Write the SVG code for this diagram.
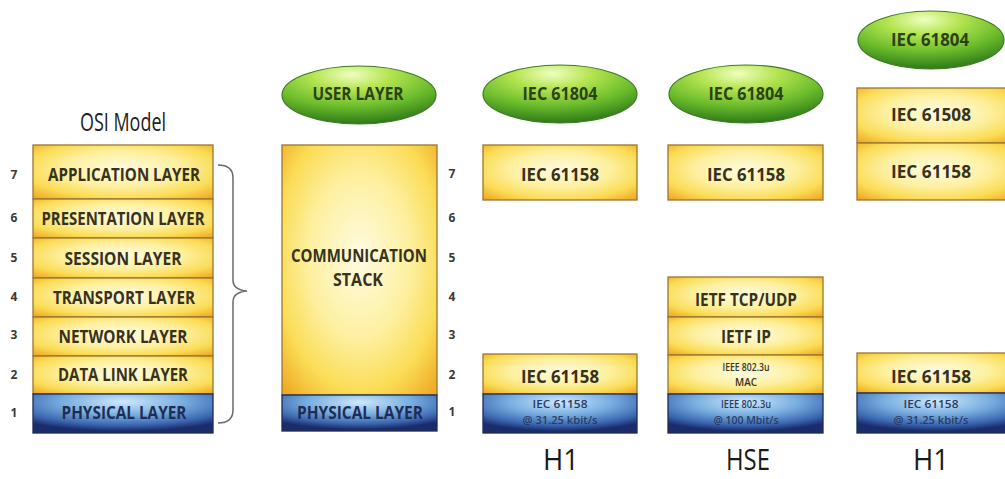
<svg xmlns="http://www.w3.org/2000/svg" width="1005" height="479" viewBox="0 0 1005 479">
  <defs>
    <radialGradient id="gYellow" cx="0.5" cy="0.45" r="0.72">
      <stop offset="0" stop-color="#fffbe2"/>
      <stop offset="0.45" stop-color="#fdf0a0"/>
      <stop offset="0.75" stop-color="#fbdc55"/>
      <stop offset="1" stop-color="#efa924"/>
    </radialGradient>
    <radialGradient id="gBlue" cx="0.5" cy="0.2" r="0.75">
      <stop offset="0" stop-color="#cfe8fb"/>
      <stop offset="0.45" stop-color="#78aee0"/>
      <stop offset="0.8" stop-color="#3a66b0"/>
      <stop offset="1" stop-color="#1b2c6c"/>
    </radialGradient>
    <radialGradient id="gGreen" cx="0.45" cy="0.15" r="0.85">
      <stop offset="0" stop-color="#efffc0"/>
      <stop offset="0.3" stop-color="#b4e450"/>
      <stop offset="0.65" stop-color="#6cbc2c"/>
      <stop offset="1" stop-color="#2e7a18"/>
    </radialGradient>
    <clipPath id="page"><rect x="0" y="0" width="1005" height="479"/></clipPath>
  </defs>
  <style>
    .y { fill: url(#gYellow); stroke: #9a7632; stroke-width: 1.3; }
    .b { fill: url(#gBlue); stroke: #1e2a55; stroke-width: 1.3; }
    .g { fill: url(#gGreen); stroke: #3d7a22; stroke-width: 1.2; }
    text { font-family: "Open Sans", "DejaVu Sans", sans-serif; text-anchor: middle; }
    .t { font-size: 17px; font-weight: 700; fill: #38321c; }
    .tb { font-size: 17px; font-weight: 700; fill: #1f2d55; }
    .tg { font-size: 17px; font-weight: 700; fill: #2c4212; }
    .s { font-size: 11px; font-weight: 600; fill: #3a3420; }
    .sb { font-size: 11px; font-weight: 600; fill: #2a3c66; }
    .n { font-size: 12px; font-weight: 700; fill: #3a3a3a; }
    .big { font-size: 29px; font-weight: 400; fill: #1a1a1a; }
    .title { font-size: 26px; font-weight: 400; fill: #222; }
    .brace { fill: none; stroke: #6a6a6a; stroke-width: 1.5; }
  </style>
  <rect width="1005" height="479" fill="#ffffff"/>

  <!-- OSI reference model -->
  <g id="osi-model">
    <text class="title" x="123" y="131" textLength="86" lengthAdjust="spacingAndGlyphs">OSI Model</text>
    <rect class="y" x="33" y="145" width="180" height="54"/>
    <rect class="y" x="33" y="199" width="180" height="39"/>
    <rect class="y" x="33" y="238" width="180" height="40"/>
    <rect class="y" x="33" y="278" width="180" height="39"/>
    <rect class="y" x="33" y="317" width="180" height="39"/>
    <rect class="y" x="33" y="356" width="180" height="38"/>
    <rect class="b" x="33" y="394" width="180" height="39"/>
    <text class="t" x="124" y="181" textLength="152" lengthAdjust="spacingAndGlyphs">APPLICATION LAYER</text>
    <text class="t" x="123" y="225" textLength="163" lengthAdjust="spacingAndGlyphs">PRESENTATION LAYER</text>
    <text class="t" x="123" y="265" textLength="117" lengthAdjust="spacingAndGlyphs">SESSION LAYER</text>
    <text class="t" x="124" y="304" textLength="142" lengthAdjust="spacingAndGlyphs">TRANSPORT LAYER</text>
    <text class="t" x="123" y="343" textLength="129" lengthAdjust="spacingAndGlyphs">NETWORK LAYER</text>
    <text class="t" x="123" y="381" textLength="130" lengthAdjust="spacingAndGlyphs">DATA LINK LAYER</text>
    <text class="tb" x="124" y="419" textLength="125" lengthAdjust="spacingAndGlyphs">PHYSICAL LAYER</text>
  </g>

  <!-- layer numbers, left -->
  <g id="numbers-left">
    <text class="n" x="14" y="179">7</text>
    <text class="n" x="14" y="222">6</text>
    <text class="n" x="14" y="262">5</text>
    <text class="n" x="14" y="301">4</text>
    <text class="n" x="14" y="339">3</text>
    <text class="n" x="14" y="379">2</text>
    <text class="n" x="14" y="417">1</text>
  </g>

  <!-- fieldbus model: user layer over communication stack -->
  <g id="user-layer">
    <ellipse class="g" cx="359" cy="95" rx="77" ry="29"/>
    <text class="tg" x="358" y="100" textLength="91" lengthAdjust="spacingAndGlyphs">USER LAYER</text>
  </g>
  <g id="communication-stack">
    <rect class="y" x="282" y="145" width="155" height="250"/>
    <text class="t" x="359" y="262" textLength="136" lengthAdjust="spacingAndGlyphs">COMMUNICATION</text>
    <text class="t" x="358" y="286" textLength="50" lengthAdjust="spacingAndGlyphs">STACK</text>
  </g>
  <g id="fieldbus-physical">
    <rect class="b" x="282" y="395" width="155" height="36"/>
    <text class="tb" x="360" y="419" textLength="126" lengthAdjust="spacingAndGlyphs">PHYSICAL LAYER</text>
  </g>

  <!-- layer numbers, middle -->
  <g id="numbers-middle">
    <text class="n" x="452" y="178">7</text>
    <text class="n" x="452" y="222">6</text>
    <text class="n" x="452" y="262">5</text>
    <text class="n" x="452" y="301">4</text>
    <text class="n" x="452" y="339">3</text>
    <text class="n" x="452" y="379">2</text>
    <text class="n" x="452" y="416">1</text>
  </g>

  <!-- H1 profile -->
  <g id="h1-left">
    <ellipse class="g" cx="560" cy="94" rx="77" ry="29"/>
    <text class="tg" x="560" y="100" textLength="75" lengthAdjust="spacingAndGlyphs">IEC 61804</text>
    <rect class="y" x="483" y="145" width="154" height="55"/>
    <text class="t" x="560" y="181" textLength="78" lengthAdjust="spacingAndGlyphs">IEC 61158</text>
    <rect class="y" x="483" y="354" width="154" height="40"/>
    <text class="t" x="560" y="383" textLength="78" lengthAdjust="spacingAndGlyphs">IEC 61158</text>
    <rect class="b" x="483" y="394" width="154" height="39"/>
    <text class="sb" x="560" y="408" textLength="55" lengthAdjust="spacingAndGlyphs">IEC 61158</text>
    <text class="sb" x="560" y="424" textLength="75" lengthAdjust="spacingAndGlyphs">@ 31.25 kbit/s</text>
    <text class="big" x="561" y="470" textLength="36" lengthAdjust="spacingAndGlyphs">H1</text>
  </g>

  <!-- HSE profile -->
  <g id="hse">
    <ellipse class="g" cx="746" cy="94" rx="77" ry="29"/>
    <text class="tg" x="746" y="100" textLength="75" lengthAdjust="spacingAndGlyphs">IEC 61804</text>
    <rect class="y" x="668" y="145" width="155" height="55"/>
    <text class="t" x="746" y="181" textLength="78" lengthAdjust="spacingAndGlyphs">IEC 61158</text>
    <rect class="y" x="668" y="277" width="155" height="40"/>
    <text class="t" x="746" y="306" textLength="102" lengthAdjust="spacingAndGlyphs">IETF TCP/UDP</text>
    <rect class="y" x="668" y="317" width="155" height="38"/>
    <text class="t" x="746" y="343" textLength="50" lengthAdjust="spacingAndGlyphs">IETF IP</text>
    <rect class="y" x="668" y="355" width="155" height="39"/>
    <text class="s" x="746" y="371" textLength="47" lengthAdjust="spacingAndGlyphs">IEEE 802.3u</text>
    <text class="s" x="746" y="386" textLength="22" lengthAdjust="spacingAndGlyphs">MAC</text>
    <rect class="b" x="668" y="394" width="155" height="39"/>
    <text class="sb" x="746" y="408" textLength="50" lengthAdjust="spacingAndGlyphs">IEEE 802.3u</text>
    <text class="sb" x="746" y="424" textLength="65" lengthAdjust="spacingAndGlyphs">@ 100 Mbit/s</text>
    <text class="big" x="748" y="470" textLength="44" lengthAdjust="spacingAndGlyphs">HSE</text>
  </g>

  <!-- H1 profile with safety layer -->
  <g id="h1-right" clip-path="url(#page)">
    <ellipse class="g" cx="931" cy="40" rx="73" ry="29"/>
    <text class="tg" x="930" y="46" textLength="78" lengthAdjust="spacingAndGlyphs">IEC 61804</text>
    <rect class="y" x="857" y="88" width="160" height="55"/>
    <text class="t" x="931" y="121" textLength="80" lengthAdjust="spacingAndGlyphs">IEC 61508</text>
    <rect class="y" x="857" y="143" width="160" height="57"/>
    <text class="t" x="931" y="178" textLength="80" lengthAdjust="spacingAndGlyphs">IEC 61158</text>
    <rect class="y" x="857" y="353" width="160" height="40"/>
    <text class="t" x="931" y="383" textLength="80" lengthAdjust="spacingAndGlyphs">IEC 61158</text>
    <rect class="b" x="857" y="393" width="160" height="40"/>
    <text class="sb" x="931" y="408" textLength="55" lengthAdjust="spacingAndGlyphs">IEC 61158</text>
    <text class="sb" x="931" y="424" textLength="75" lengthAdjust="spacingAndGlyphs">@ 31.25 kbit/s</text>
    <text class="big" x="931" y="470" textLength="36" lengthAdjust="spacingAndGlyphs">H1</text>
  </g>

  <!-- brace grouping the seven OSI layers -->
  <g id="connectors">
    <path class="brace" d="M218,165 Q233,165 233,178 L233,280 Q233,290 247,291 Q233,292 233,302 L233,410 Q233,423 218,423"/>
  </g>
</svg>
